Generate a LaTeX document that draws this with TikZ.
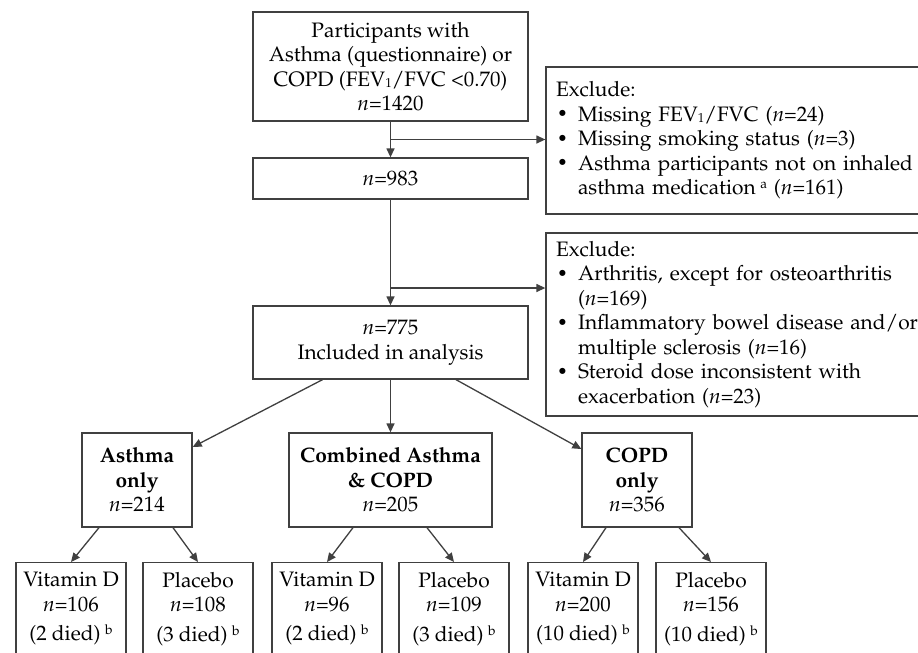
\documentclass[tikz,border=0pt]{standalone}
\usepackage[T1]{fontenc}
\usepackage{mathpazo}
\usepackage{graphicx}
\usetikzlibrary{arrows.meta}
\definecolor{lc}{RGB}{64,64,64}
\newcommand\dfont{\fontsize{20.9}{24.5}\selectfont}
\newcommand\xbul{\makebox[22pt][l]{\hspace{1pt}\raisebox{0.15ex}{\scalebox{0.85}{\textbullet}}}}
\newcommand\xind{\hspace*{22pt}}
\newcommand\xsup[1]{\hspace{0.22em}\raisebox{0.6ex}{\fontsize{13.5}{13.5}\selectfont #1}}
\newcommand\xsub[1]{\raisebox{-0.15ex}{\fontsize{13}{13}\selectfont #1}}
\tikzset{
  box/.style={draw=lc, line width=1.3pt, inner sep=0pt, align=center, font=\dfont},
  exbox/.style={draw=lc, line width=1.3pt, inner xsep=10pt, inner ysep=0pt, align=left,
    text width=374pt, minimum width=394pt, font=\dfont},
  txt/.style={inner sep=0pt, align=center, font=\dfont},
  arr/.style={draw=lc, line width=1.3pt, -{Triangle[length=9pt,width=8pt]}},
}
\begin{document}
\begin{tikzpicture}[x=1pt,y=-1pt]
\useasboundingbox (0,0) rectangle (918,653);
\fill[white] (0,0) rectangle (918,653);
\clip (0,0) rectangle (918,653);

\node[box, minimum width=275pt, minimum height=109pt] (top) at (390.5,66.5)
  {Participants with\\Asthma (questionnaire) or\\COPD (FEV\xsub{1}/FVC <0.70)\\\textit{n}=1420};
\node[box, minimum width=275pt, minimum height=41pt] (n983) at (390.5,178.5) {\textit{n}=983};
\node[box, minimum width=275pt, minimum height=73pt] (n775) at (390.5,342.5)
  {\textit{n}=775\\Included in analysis};

\node[exbox, minimum height=147pt] (ex1) at (743,140.5)
  {Exclude:\\
   \xbul Missing FEV\xsub{1}/FVC (\textit{n}=24)\\
   \xbul Missing smoking status (\textit{n}=3)\\
   \xbul Asthma participants not on inhaled\\
   \xind asthma medication\xsup{a} (\textit{n}=161)};
\node[exbox, minimum height=183pt] (ex2) at (743,324.5)
  {Exclude:\\
   \xbul Arthritis, except for osteoarthritis\\
   \xind (\textit{n}=169)\\
   \xbul Inflammatory bowel disease and/or\\
   \xind multiple sclerosis (\textit{n}=16)\\
   \xbul Steroid dose inconsistent with\\
   \xind exacerbation (\textit{n}=23)};

\node[box, minimum width=110pt, minimum height=94pt] (asth) at (137,480)
  {\textbf{Asthma}\\\textbf{only}\\\textit{n}=214};
\node[box, minimum width=203pt, minimum height=94pt] (comb) at (390.5,480)
  {\textbf{Combined Asthma}\\\textbf{\& COPD}\\\textit{n}=205};
\node[box, minimum width=110pt, minimum height=94pt] (copd) at (637,480)
  {\textbf{COPD}\\\textbf{only}\\\textit{n}=356};

\foreach \nm/\cx in {v1/71,p1/198,v2/327,p2/454,v3/583,p3/711}
  \node[box, anchor=north, minimum width=110pt, minimum height=160pt] (\nm) at (\cx,562) {};

\node[txt, anchor=north] (v1t) at ([yshift=-10pt]v1.north) {Vitamin D\\\textit{n}=106\\[5pt](2 died)\xsup{b}};
\node[txt, anchor=north] (p1t) at ([yshift=-10pt]p1.north) {Placebo\\\textit{n}=108\\[5pt](3 died)\xsup{b}};
\node[txt, anchor=north] (v2t) at ([yshift=-10pt]v2.north) {Vitamin D\\\textit{n}=96\\[5pt](2 died)\xsup{b}};
\node[txt, anchor=north] (p2t) at ([yshift=-10pt]p2.north) {Placebo\\\textit{n}=109\\[5pt](3 died)\xsup{b}};
\node[txt, anchor=north] (v3t) at ([yshift=-10pt]v3.north) {Vitamin D\\\textit{n}=200\\[5pt](10 died)\xsup{b}};
\node[txt, anchor=north] (p3t) at ([yshift=-10pt]p3.north) {Placebo\\\textit{n}=156\\[5pt](10 died)\xsup{b}};

\coordinate (b1) at (390.5,139.5);
\coordinate (b2) at (390.5,288);
\draw[arr] (top.south) -- (n983.north);
\draw[arr] (b1) -- (b1 -| ex1.west);
\draw[arr] (n983.south) -- (n775.north);
\draw[arr] (b2) -- (b2 -| ex2.west);

\draw[arr] ([xshift=-68pt]n775.south) -- ([yshift=33pt]asth.east);
\draw[arr] (n775.south) -- (comb.north);
\draw[arr] ([xshift=65.5pt]n775.south) -- ([yshift=31pt]copd.west);

\draw[arr] ([xshift=-38pt]asth.south) -- (v1.north);
\draw[arr] ([xshift=36pt]asth.south) -- (p1.north);
\draw[arr] ([xshift=-37.5pt]comb.south) -- (v2.north);
\draw[arr] ([xshift=36.5pt]comb.south) -- (p2.north);
\draw[arr] ([xshift=-31pt]copd.south) -- (v3.north);
\draw[arr] ([xshift=42pt]copd.south) -- (p3.north);
\end{tikzpicture}
\end{document}
